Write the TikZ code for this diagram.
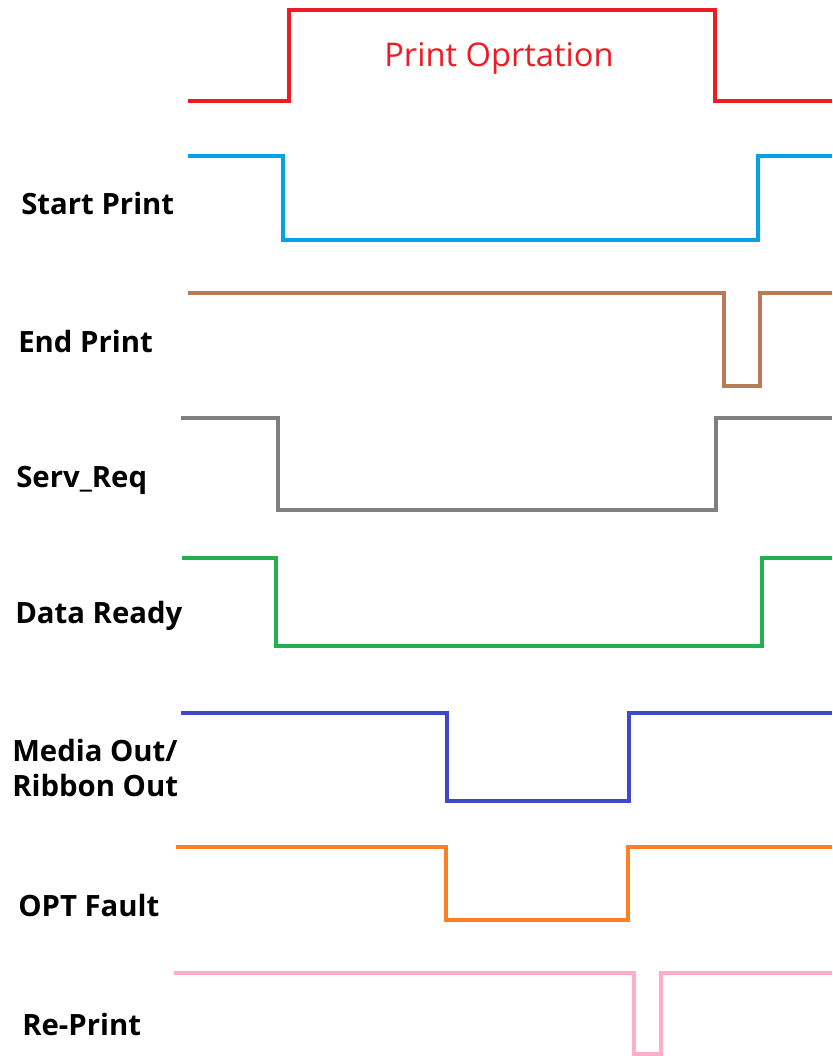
\documentclass[tikz,border=0pt]{standalone}
\usepackage{fontspec}
\setmainfont{Open Sans}
\usepackage{tikz}
\usetikzlibrary{positioning}
\definecolor{op-red}{RGB}{237,28,36}
\definecolor{sp-blue}{RGB}{0,162,232}
\definecolor{ep-brown}{RGB}{185,122,87}
\definecolor{sr-gray}{RGB}{127,127,127}
\definecolor{dr-green}{RGB}{34,177,76}
\definecolor{mo-blue}{RGB}{63,72,204}
\definecolor{of-orange}{RGB}{255,127,39}
\definecolor{rp-pink}{RGB}{255,174,201}
\tikzset{
  wave/.style={line width=3pt, line join=miter},
  siglabel/.style={anchor=west, inner sep=0pt, font=\fontsize{22}{26}\selectfont\bfseries, align=left}
}

\begin{document}
\begin{tikzpicture}[x=0.75pt,y=-0.75pt]
    \useasboundingbox (0,0) rectangle (832,1056);

    % print operation window
    \draw[wave, op-red] (188,101) -- (289,101) -- (289,10) -- (715,10) -- (715,101) -- (832,101);
    \node[text=op-red, font=\fontsize{24.5}{28}\selectfont] (op) at (499,58) {Print Oprtation};

    \draw[wave, sp-blue] (188,156) -- (283,156) -- (283,240) -- (758,240) -- (758,156) -- (832,156);
    \node[siglabel] (sp) at (21,203) {Start Print};

    \draw[wave, ep-brown] (188,293) -- (724,293) -- (724,386) -- (760,386) -- (760,293) -- (832,293);
    \node[siglabel] (ep) at (18,341) {End Print};

    \draw[wave, sr-gray] (181,418) -- (278,418) -- (278,510) -- (716,510) -- (716,418) -- (832,418);
    \node[siglabel] (sr) at (16,480) {Serv\_Req};

    \draw[wave, dr-green] (182,558) -- (276,558) -- (276,646) -- (762,646) -- (762,558) -- (832,558);
    \node[siglabel] (dr) at (15,616) {Data Ready};

    \draw[wave, mo-blue] (181,713) -- (447,713) -- (447,801) -- (629,801) -- (629,713) -- (832,713);
    \node[siglabel] (mo) at (12,768) {Media Out/\\Ribbon Out};

    \draw[wave, of-orange] (176,847) -- (446,847) -- (446,920) -- (628,920) -- (628,847) -- (832,847);
    \node[siglabel] (of) at (18,905) {OPT Fault};

    \draw[wave, rp-pink] (174,973) -- (634,973) -- (634,1054) -- (661,1054) -- (661,973) -- (832,973);
    \node[siglabel] (rp) at (22,1024) {Re-Print};
\end{tikzpicture}
\end{document}
